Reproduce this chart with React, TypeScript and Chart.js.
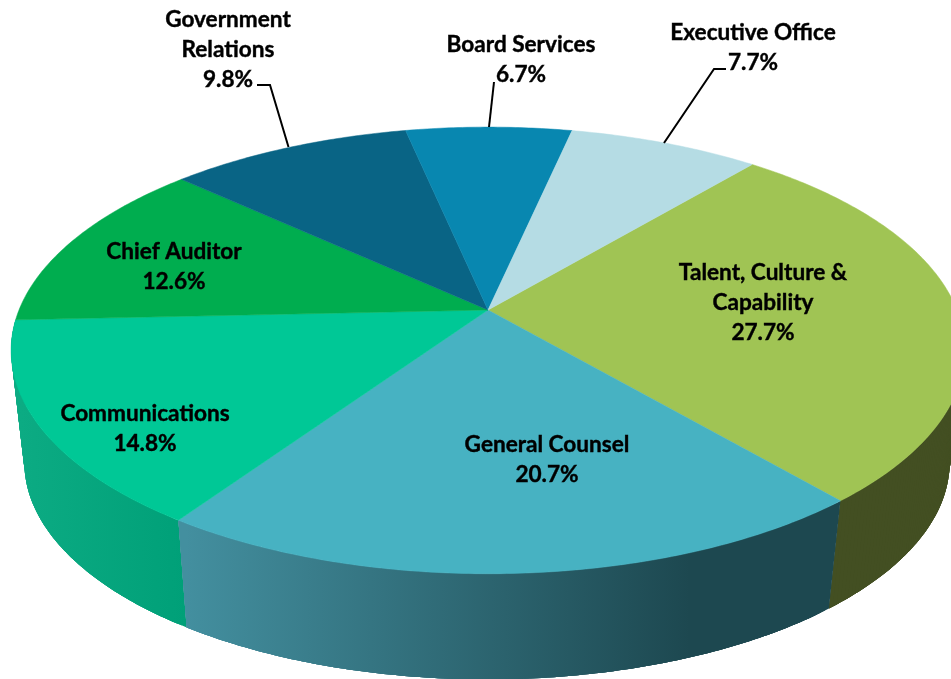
import React, { useEffect, useRef } from "react";
import { Chart, registerables } from "chart.js";

Chart.register(...registerables);

const categories = [
  "Talent, Culture & Capability",
  "General Counsel",
  "Communications",
  "Chief Auditor",
  "Government Relations",
  "Board Services",
  "Executive Office",
];
const shares = [27.7, 20.7, 14.8, 12.6, 9.8, 6.7, 7.7];
const topColors = ["#a0c454", "#47b2c2", "#00c896", "#00ad4f", "#096485", "#0887b0", "#b5dce4"];
const labelLines = [
  ["Talent, Culture &", "Capability"],
  ["General Counsel"],
  ["Communications"],
  ["Chief Auditor"],
  ["Government", "Relations"],
  ["Board Services"],
  ["Executive Office"],
];
const labelAnchors = [
  [763, 273],
  [547, 445],
  [145, 414],
  [174, 252],
  [228, 20],
  [521, 45],
  [753, 33],
];
const leaders = [
  null,
  null,
  null,
  null,
  [[257, 85], [270, 85], [288.5, 147]],
  [[494, 82], [489, 127]],
  [[726, 69], [714, 69], [664, 143]],
];

const ROTATION = 39.9;
const PERSPECTIVE = 0.181;
const TOP_FACE = { cx: 488, cy: 310, a: 469, b: 216 };
const BASE_FACE = { cx: 487, cy: 423, a: 455, b: 210 };
const FONT = 'bold 22.6px Lato, "Open Sans", sans-serif';
const LINE_H = 29.7;

type Face = typeof TOP_FACE;

function project(f: Face, ang: number): [number, number] {
  const x = Math.cos(ang);
  const y = Math.sin(ang);
  const w = 1 - PERSPECTIVE * y;
  return [f.cx + (f.a * x) / w, f.cy + (f.b * y) / w];
}

function arcPoints(f: Face, a0: number, a1: number): [number, number][] {
  const n = Math.max(8, Math.ceil(Math.abs(a1 - a0) * 90));
  const pts: [number, number][] = [];
  for (let i = 0; i <= n; i++) pts.push(project(f, a0 + ((a1 - a0) * i) / n));
  return pts;
}

function wallFill(ctx: CanvasRenderingContext2D, idx: number): string | CanvasGradient {
  if (idx === 0) return "#434f22";
  if (idx === 1) {
    const g = ctx.createLinearGradient(186, 0, 690, 0);
    g.addColorStop(0, "#438f9f");
    g.addColorStop(1, "#1d4850");
    return g;
  }
  const g = ctx.createLinearGradient(20, 0, 186, 0);
  g.addColorStop(0, "#0cab83");
  g.addColorStop(1, "#00a078");
  return g;
}

const pie3d = {
  id: "pie3d",
  beforeDatasetDraw(chart: any) {
    const ctx: CanvasRenderingContext2D = chart.ctx;
    const arcs = chart.getDatasetMeta(0).data;
    ctx.save();
    // side walls of the front slices, in overlapping strips so the outline follows the tangents
    [0, 2, 1].forEach((i) => {
      const a0 = Math.max(arcs[i].startAngle, 0.1);
      const a1 = arcs[i].endAngle;
      const top = arcPoints(TOP_FACE, a0, a1);
      const base = arcPoints(BASE_FACE, a0, a1);
      ctx.fillStyle = wallFill(ctx, i);
      for (let k = 0; k < top.length - 1; k++) {
        const e = Math.min(k + 4, top.length - 1);
        ctx.beginPath();
        ctx.moveTo(top[k][0], top[k][1]);
        for (let j = k + 1; j <= e; j++) ctx.lineTo(top[j][0], top[j][1]);
        for (let j = e; j >= k; j--) ctx.lineTo(base[j][0], base[j][1]);
        ctx.closePath();
        ctx.fill();
      }
    });
    // top face
    arcs.forEach((arc: any, i: number) => {
      const pts = arcPoints(TOP_FACE, arc.startAngle, arc.endAngle);
      ctx.beginPath();
      ctx.moveTo(TOP_FACE.cx, TOP_FACE.cy);
      pts.forEach(([x, y]) => ctx.lineTo(x, y));
      ctx.closePath();
      ctx.fillStyle = topColors[i];
      ctx.strokeStyle = topColors[i];
      ctx.lineWidth = 0.5;
      ctx.fill();
      ctx.stroke();
    });
    ctx.restore();
    return false;
  },
  afterDraw(chart: any) {
    const ctx: CanvasRenderingContext2D = chart.ctx;
    ctx.save();
    ctx.strokeStyle = "#000000";
    ctx.lineWidth = 2;
    leaders.forEach((pts) => {
      if (!pts) return;
      ctx.beginPath();
      pts.forEach(([x, y], k) => (k ? ctx.lineTo(x, y) : ctx.moveTo(x, y)));
      ctx.stroke();
    });
    ctx.fillStyle = "#000000";
    ctx.font = FONT;
    ctx.textAlign = "center";
    ctx.textBaseline = "middle";
    ctx.lineWidth = 0.4;
    labelLines.forEach((lines, i) => {
      const [x, y] = labelAnchors[i];
      [...lines, shares[i].toFixed(1) + "%"].forEach((t, k) => {
        ctx.fillText(t, x, y + k * LINE_H);
        ctx.strokeText(t, x, y + k * LINE_H);
      });
    });
    ctx.restore();
  },
};

export default function App() {
  const ref = useRef<HTMLCanvasElement>(null);
  useEffect(() => {
    const chart = new Chart(ref.current as HTMLCanvasElement, {
      type: "pie",
      data: {
        labels: categories,
        datasets: [{ data: shares, backgroundColor: topColors, borderWidth: 0 }],
      },
      options: {
        responsive: false,
        animation: false,
        rotation: ROTATION,
        plugins: { legend: { display: false }, tooltip: { enabled: false } },
      },
      plugins: [pie3d],
    } as any);
    return () => chart.destroy();
  }, []);
  return (
    <canvas
      ref={ref}
      width={951}
      height={679}
      style={{ position: "fixed", left: 0, top: 0, width: 951, height: 679, background: "#ffffff" }}
    />
  );
}
